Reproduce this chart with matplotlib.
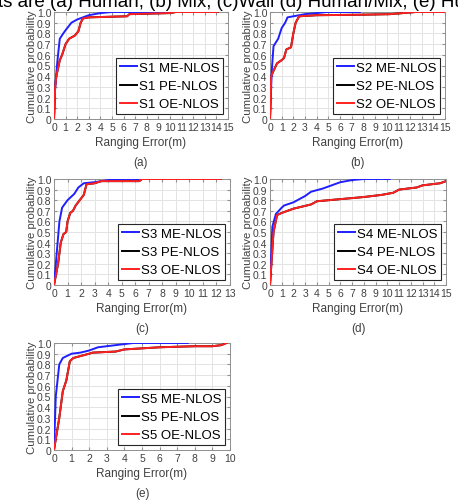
import matplotlib
matplotlib.use("Agg")
import matplotlib.pyplot as plt

plt.rcParams['font.family'] = ['Liberation Sans', 'DejaVu Sans']

W, H = 458, 502

# ───────────────────────────────
# Data (CDF of ranging error)
# ───────────────────────────────
s1_me_x = [0, 0.1, 0.3, 0.5, 0.8, 1.0, 1.5, 2.0, 3.0, 4.0, 5.0, 10.6]
s1_me_y = [0, 0.3, 0.55, 0.75, 0.8, 0.83, 0.9, 0.93, 0.97, 0.99, 1.0, 1.0]
s1_oe_x = [0, 0.1, 0.2, 0.5, 0.7, 1.0, 1.3, 1.8, 2.1, 2.3, 2.5, 3.0, 6.3, 6.5, 10.0, 10.5, 14.1]
s1_oe_y = [0, 0.3, 0.4, 0.55, 0.6, 0.7, 0.75, 0.78, 0.82, 0.9, 0.94, 0.95, 0.96, 0.98, 0.99, 1.0, 1.0]

s2_me_x = [0, 0.15, 0.3, 0.7, 1.0, 1.3, 1.5, 2.0, 3.0, 4.0, 4.9, 7.7]
s2_me_y = [0, 0.45, 0.68, 0.75, 0.85, 0.9, 0.95, 0.96, 0.98, 0.99, 1.0, 1.0]
s2_oe_x = [0, 0.1, 0.3, 0.6, 1.0, 1.2, 1.4, 1.6, 1.8, 2.0, 2.2, 2.5, 4.0, 8.0, 10.3, 12.5, 15.0]
s2_oe_y = [0, 0.4, 0.45, 0.52, 0.55, 0.57, 0.65, 0.66, 0.67, 0.8, 0.9, 0.96, 0.97, 0.975, 0.98, 1.0, 1.0]

s3_me_x = [0, 0.2, 0.4, 0.6, 1.0, 1.5, 1.8, 2.2, 3.0, 4.0, 5.0, 6.3]
s3_me_y = [0, 0.3, 0.6, 0.73, 0.8, 0.86, 0.92, 0.96, 0.97, 0.99, 1.0, 1.0]
s3_oe_x = [0, 0.3, 0.5, 0.7, 0.9, 1.0, 1.2, 1.4, 1.6, 1.9, 2.2, 2.4, 3.0, 3.5, 6.3, 6.5, 12.3]
s3_oe_y = [0, 0.2, 0.4, 0.48, 0.5, 0.6, 0.68, 0.7, 0.75, 0.8, 0.85, 0.95, 0.96, 0.98, 0.98, 1.0, 1.0]

s4_me_x = [0, 0.2, 0.5, 1.0, 1.2, 2.0, 3.0, 3.5, 4.5, 5.5, 6.0, 7.0, 8.0, 10.2]
s4_me_y = [0, 0.55, 0.67, 0.73, 0.75, 0.78, 0.84, 0.88, 0.91, 0.95, 0.97, 0.99, 1.0, 1.0]
s4_oe_x = [0, 0.3, 0.6, 1.0, 2.0, 3.5, 4.0, 6.0, 7.0, 8.0, 9.5, 10.5, 11.0, 12.5, 13.0, 14.5, 15.0]
s4_oe_y = [0, 0.5, 0.66, 0.68, 0.72, 0.76, 0.79, 0.81, 0.82, 0.83, 0.85, 0.87, 0.9, 0.92, 0.94, 0.96, 0.98]

s5_me_x = [0, 0.1, 0.3, 0.5, 1.0, 1.5, 2.0, 2.5, 3.0, 4.0, 4.5, 7.6]
s5_me_y = [0, 0.5, 0.8, 0.86, 0.9, 0.91, 0.93, 0.96, 0.97, 0.99, 1.0, 1.0]
s5_oe_x = [0, 0.3, 0.5, 0.7, 0.9, 1.1, 2.0, 2.2, 3.5, 4.0, 5.0, 6.0, 8.0, 9.0, 9.5, 9.8]
s5_oe_y = [0, 0.3, 0.55, 0.65, 0.83, 0.86, 0.9, 0.91, 0.92, 0.94, 0.95, 0.96, 0.97, 0.97, 0.98, 1.0]

panels = [
    ("S1", s1_me_x, s1_me_y, s1_oe_x, s1_oe_y, 15, "(a)"),
    ("S2", s2_me_x, s2_me_y, s2_oe_x, s2_oe_y, 15, "(b)"),
    ("S3", s3_me_x, s3_me_y, s3_oe_x, s3_oe_y, 13, "(c)"),
    ("S4", s4_me_x, s4_me_y, s4_oe_x, s4_oe_y, 15, "(d)"),
    ("S5", s5_me_x, s5_me_y, s5_oe_x, s5_oe_y, 10, "(e)"),
]

# axes boxes in pixels: left, right, top, bottom
boxes = [
    (54, 228, 13, 120),
    (270, 445, 13, 120),
    (54, 230, 180, 286),
    (270, 446, 180, 286),
    (54, 230, 344, 451),
]

fig = plt.figure(figsize=(W / 100, H / 100), dpi=100)

# caption of the source figure, cut by the top edge as in the original
fig.text(-0.005, 1 - 7 / H, "ts are (a) Human, (b) Mix, (c)Wall (d) Human/Mix, (e) Human/Wall",
         fontsize=13.5, ha="left", va="baseline", color="black")

for (name, mx, my, ox, oy, xmax, tag), (l, r, t, b) in zip(panels, boxes):
    ax = fig.add_axes([l / W, 1 - b / H, (r - l) / W, (b - t) / H])
    ax.plot(ox, oy, color="black", lw=1.4, label=f"{name} PE-NLOS", zorder=3)
    ax.plot(mx, my, color="#1f1fff", lw=1.4, label=f"{name} ME-NLOS", zorder=4)
    ax.plot(ox, oy, color="#ff2020", lw=1.4, label=f"{name} OE-NLOS", zorder=5)

    ax.set_xlim(0, xmax)
    ax.set_ylim(0, 1.0)
    ax.set_xticks(range(0, xmax + 1))
    ax.set_yticks([i / 10 for i in range(11)])
    ax.set_yticklabels(["0"] + [f"{i / 10:.1f}" for i in range(1, 11)])
    ax.grid(True, color="#e3e3e3", lw=0.7)
    ax.tick_params(labelsize=7.5, colors="#404040", length=2, direction="in", pad=2,
                   top=True, right=True)
    ax.tick_params(color="#909090")
    for sp in ax.spines.values():
        sp.set_color("#909090")
        sp.set_linewidth(0.7)

    ax.set_xlabel("Ranging Error(m)", fontsize=8.5, color="#404040", labelpad=3)
    ax.set_ylabel("Cumulative probability", fontsize=8.2, color="#404040", labelpad=0)

    handles, labels = ax.get_legend_handles_labels()
    order = [1, 0, 2]
    leg = ax.legend([handles[i] for i in order], [labels[i] for i in order],
                    loc="lower right", fontsize=9.5, frameon=True, fancybox=False,
                    handlelength=1.3, handletextpad=0.15, borderpad=0.3,
                    labelspacing=0.45, borderaxespad=0.35)
    leg.get_frame().set_edgecolor("#262626")
    leg.get_frame().set_linewidth(0.8)
    leg.get_frame().set_alpha(1)
    leg.set_zorder(10)

    cx = (l + r) / 2 / W
    fig.text(cx, 1 - (b + 43) / H, tag, fontsize=8.5, ha="center", va="center",
             color="#404040")

fig.savefig("out.png", dpi=100)
